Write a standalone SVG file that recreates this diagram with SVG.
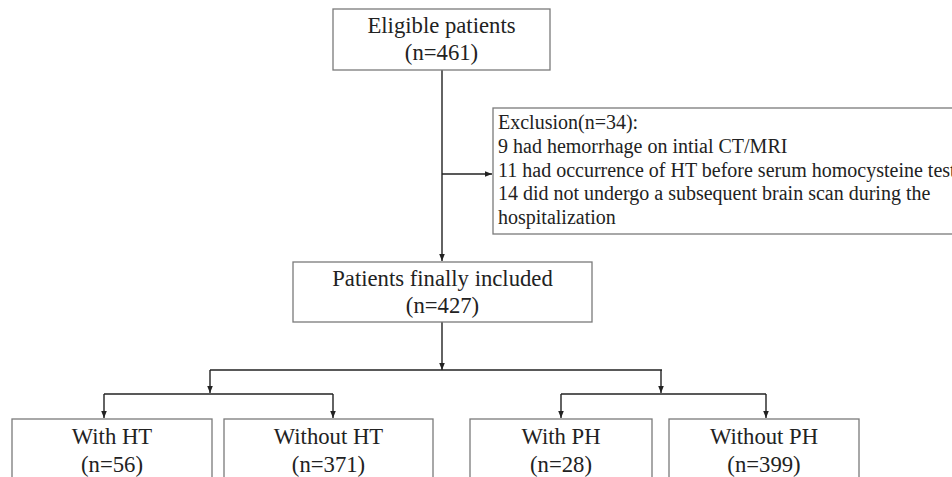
<svg xmlns="http://www.w3.org/2000/svg" width="952" height="477" viewBox="0 0 952 477">
<style>
.box{fill:#fff;stroke:#7a7a7a;stroke-width:1.3}
.t{font-family:"Liberation Serif","Times New Roman",serif;font-size:22.7px;fill:#222;text-anchor:middle}
.e{font-family:"Liberation Serif","Times New Roman",serif;font-size:20px;fill:#222}
.c{fill:none;stroke:#222;stroke-width:1.4}
</style>
<defs>
<marker id="ah" viewBox="0 0 10 10" refX="10" refY="5" markerWidth="7" markerHeight="7" markerUnits="userSpaceOnUse" orient="auto">
<path d="M0,1 L10,5 L0,9 z" fill="#222"/>
</marker>
</defs>
<rect width="952" height="477" fill="#fff"/>
<g id="connectors">
<path class="c" d="M442,70 V261" marker-end="url(#ah)"/>
<path class="c" d="M442,174 H492" marker-end="url(#ah)"/>
<path class="c" d="M442,322 V370"  marker-end="url(#ah)"/>
<path class="c" d="M210,370 H662"/>
<path class="c" d="M210,370 V393" marker-end="url(#ah)"/>
<path class="c" d="M661,370 V393" marker-end="url(#ah)"/>
<path class="c" d="M104,394 H333"/>
<path class="c" d="M104,394 V418" marker-end="url(#ah)"/>
<path class="c" d="M333,394 V418" marker-end="url(#ah)"/>
<path class="c" d="M561,394 H766"/>
<path class="c" d="M561,394 V418" marker-end="url(#ah)"/>
<path class="c" d="M766,394 V418" marker-end="url(#ah)"/>
</g>
<g id="eligible">
<rect class="box" x="333" y="9" width="217" height="61"/>
<text class="t" x="441.5" y="33">Eligible patients</text>
<text class="t" x="441.5" y="60">(n=461)</text>
</g>
<g id="exclusion">
<rect class="box" x="493" y="108" width="470" height="126"/>
<text class="e" x="498" y="129">Exclusion(n=34):</text>
<text class="e" x="498" y="153">9 had hemorrhage on intial CT/MRI</text>
<text class="e" x="498" y="176.5">11 had occurrence of HT before serum homocysteine test</text>
<text class="e" x="498" y="200">14 did not undergo a subsequent brain scan during the</text>
<text class="e" x="498" y="223.5">hospitalization</text>
</g>
<g id="included">
<rect class="box" x="293" y="262" width="299" height="60"/>
<text class="t" x="442.5" y="285.5">Patients finally included</text>
<text class="t" x="442.5" y="313">(n=427)</text>
</g>
<g id="withHT">
<rect class="box" x="12" y="419" width="200" height="80"/>
<text class="t" x="112" y="444">With HT</text>
<text class="t" x="112" y="471.5">(n=56)</text>
</g>
<g id="withoutHT">
<rect class="box" x="224" y="419" width="209" height="80"/>
<text class="t" x="328.5" y="444">Without HT</text>
<text class="t" x="328.5" y="471.5">(n=371)</text>
</g>
<g id="withPH">
<rect class="box" x="470" y="419" width="182" height="80"/>
<text class="t" x="561" y="444">With PH</text>
<text class="t" x="561" y="471.5">(n=28)</text>
</g>
<g id="withoutPH">
<rect class="box" x="669" y="419" width="190" height="80"/>
<text class="t" x="764" y="444">Without PH</text>
<text class="t" x="764" y="471.5">(n=399)</text>
</g>
</svg>
